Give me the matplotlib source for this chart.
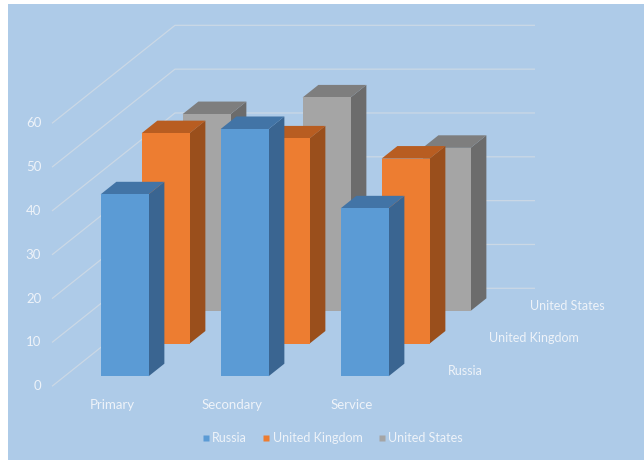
import matplotlib
matplotlib.use("Agg")
import matplotlib.pyplot as plt
from matplotlib.patches import Polygon, Rectangle
from matplotlib.lines import Line2D

# Data
categories = ["Primary", "Secondary", "Service"]
series = ["Russia", "United Kingdom", "United States"]
russia = [41.5, 56.4, 38.3]
united_kingdom = [48.0, 46.8, 42.2]
united_states = [44.9, 48.7, 37.2]
value_ticks = [0, 10, 20, 30, 40, 50, 60]

values = [russia, united_kingdom, united_states]

# Styling
front_colors = ["#5b9bd5", "#ed7d31", "#a5a5a5"]
top_colors = ["#4274a6", "#b85d21", "#7e7e7e"]
side_colors = ["#3a6591", "#9a4f1c", "#6c6c6c"]
bg_color = "#aecbe8"
grid_color = "#cbd8e5"
text_color = "#eef3f9"
plt.rcParams["font.family"] = ["Lato", "DejaVu Sans"]

# Oblique projection: depth z in [0, 1] shifts right and up
DX = 1.025   # category units per full depth
DY = 22.36   # value units per full depth
BAR_W = 0.40
BAR_D = 0.128


def proj(x, z, v):
    return (x + z * DX, v + z * DY)


fig = plt.figure(figsize=(6.44, 4.62), dpi=100)
fig.patch.set_facecolor("white")
ax = fig.add_axes([0, 0, 1, 1])
ax.set_xlim(-52 / 120, (644 - 52) / 120)
ax.set_ylim((386.3 - 462) / 4.383, 386.3 / 4.383)
ax.axis("off")

# chart area background
ax.add_patch(Rectangle((-44 / 120, (386.3 - 460) / 4.383),
                       (644 - 8) / 120, 456 / 4.383,
                       facecolor=bg_color, edgecolor="none", zorder=0))

ncat = len(categories)
# gridlines on side wall and back wall
for v in value_ticks:
    p0 = proj(0, 0, v)
    p1 = proj(0, 1, v)
    p2 = proj(ncat, 1, v)
    ax.plot([p0[0], p1[0], p2[0]], [p0[1], p1[1], p2[1]],
            color=grid_color, lw=0.9, zorder=1, solid_capstyle="butt")
    ax.text(-0.09, v, str(v), ha="right", va="center",
            color=text_color, fontsize=9.5)

# bars, back row first
zorder = 2
for j in reversed(range(len(series))):
    zc = (j + 0.5) / len(series)
    z0, z1 = zc - BAR_D / 2, zc + BAR_D / 2
    for i in range(ncat):
        v = values[j][i]
        x0 = i + 0.5 - BAR_W / 2
        x1 = i + 0.5 + BAR_W / 2
        front = [proj(x0, z0, 0), proj(x1, z0, 0), proj(x1, z0, v), proj(x0, z0, v)]
        side = [proj(x1, z0, 0), proj(x1, z1, 0), proj(x1, z1, v), proj(x1, z0, v)]
        top = [proj(x0, z0, v), proj(x1, z0, v), proj(x1, z1, v), proj(x0, z1, v)]
        ax.add_patch(Polygon(side, closed=True, facecolor=side_colors[j],
                             edgecolor="none", zorder=zorder))
        ax.add_patch(Polygon(top, closed=True, facecolor=top_colors[j],
                             edgecolor="none", zorder=zorder))
        ax.add_patch(Polygon(front, closed=True, facecolor=front_colors[j],
                             edgecolor="none", zorder=zorder))
        zorder += 1

# category labels
for i, c in enumerate(categories):
    ax.text(i + 0.5, -4.27, c, ha="center", va="center",
            color=text_color, fontsize=9.5)

# series (depth) labels
for j, s in enumerate(series):
    zc = (j + 0.5) / len(series)
    px, py = proj(ncat, zc, 0)
    ax.text(px + 0.128, py - 0.2, s, ha="left", va="center",
            color=text_color, fontsize=9.0)

# legend
handles = [Line2D([], [], marker="s", linestyle="none", markersize=4.6,
                  markerfacecolor=front_colors[j], markeredgecolor="none",
                  label=series[j]) for j in range(len(series))]
leg = fig.legend(handles=handles, loc="center", ncol=3, frameon=False,
                 bbox_to_anchor=(333 / 644, 1 - 438 / 462),
                 handlelength=0.45, handletextpad=0.3, columnspacing=1.3,
                 fontsize=9.0, labelcolor=text_color)

fig.savefig("out.png", dpi=100, facecolor="white")
